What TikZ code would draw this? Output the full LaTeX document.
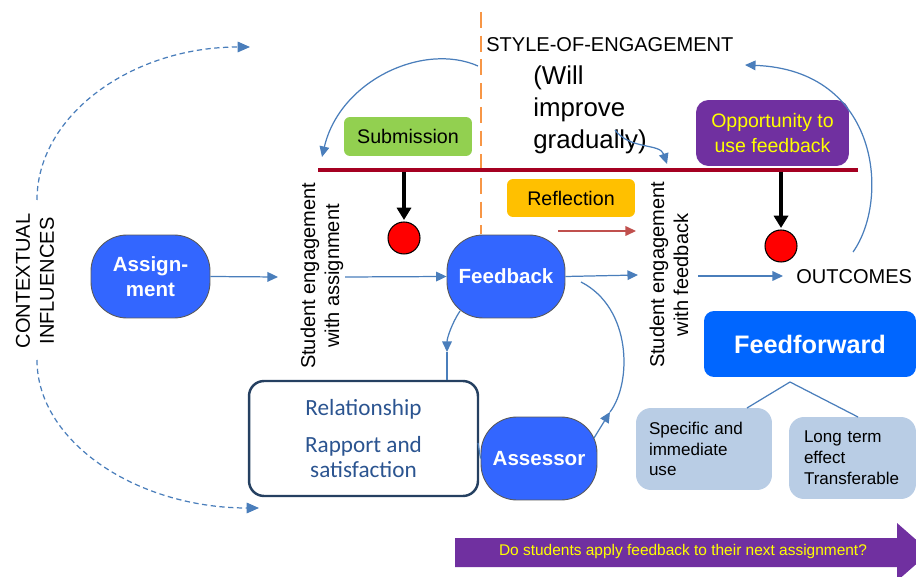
\documentclass[tikz,border=0pt]{standalone}
\usepackage{fontspec}
\setmainfont{Liberation Sans}
\newfontfamily\carlito{Carlito}
\usetikzlibrary{arrows.meta}
\newcommand\fz[2]{\fontsize{#1}{#2}\selectfont}
\definecolor{nodeblue}{HTML}{3366FF}
\definecolor{ffblue}{HTML}{0066FF}
\definecolor{lblue}{HTML}{4A7EBB}
\definecolor{dred}{HTML}{A50021}
\definecolor{orng}{HTML}{F79646}
\definecolor{grn}{HTML}{92D050}
\definecolor{ylwbox}{HTML}{FFC000}
\definecolor{purp}{HTML}{7030A0}
\definecolor{pale}{HTML}{B9CDE5}
\definecolor{navy}{HTML}{254061}
\definecolor{reltext}{HTML}{2B5490}
\definecolor{refl}{HTML}{C0504D}
\definecolor{yel}{HTML}{FFFF00}
\tikzset{
  bluebox/.style={draw=gray!70!black, line width=0.5pt, fill=nodeblue, rounded corners=0.72cm,
    text=white, font=\fz{11.7}{14}\bfseries, align=center, inner sep=0pt,
    minimum width=2.36cm, minimum height=1.66cm},
  conn/.style={draw=lblue, line width=0.7pt, -{Triangle[length=6pt,width=5.5pt]}},
  plainconn/.style={draw=lblue, line width=0.7pt},
  dashconn/.style={draw=lblue, line width=0.7pt, dash pattern=on 3pt off 2pt, -{Triangle[length=7pt,width=6pt]}},
  blackarr/.style={draw=black, line width=1.8pt, -{Triangle[length=7pt,width=8pt]}},
  reddot/.style={circle, draw=black, line width=0.6pt, fill=red, minimum size=0.64cm, inner sep=0pt},
  labelbox/.style={rounded corners=0.12cm, inner sep=0pt, font=\fz{11.2}{13.5}, align=center},
  palebox/.style={fill=pale, rounded corners=0.3cm, font=\fz{9.7}{11.9}, align=left, inner ysep=0pt},
  txt/.style={inner sep=0pt, font=\fz{11.4}{13.6}}
}
\begin{document}
\begin{tikzpicture}[x=0.02cm,y=-0.02cm]
\useasboundingbox (0,0) rectangle (916,577);
\clip (0,0) rectangle (916,577);

% horizontal bar and vertical dashed line
\draw[orng, line width=1.4pt, dash pattern=on 9pt off 4.5pt] (481,12) -- (481,234);
\draw[dred, line width=2.3pt] (318,170) -- (858,170);

% labels
\node[labelbox, fill=grn, minimum width=2.56cm, minimum height=0.78cm] (sub) at (408,136.5) {Submission};
\node[labelbox, fill=ylwbox, minimum width=2.56cm, minimum height=0.76cm] (refl) at (571,198) {Reflection};
\node[labelbox, fill=purp, text=yel, rounded corners=0.25cm, minimum width=3.06cm, minimum height=1.32cm, font=\fz{11.1}{14.2}] (opp) at (772.5,133) {Opportunity to\\use feedback};

\node[txt, anchor=west] (style) at (486,45) {STYLE-OF-ENGAGEMENT};
\node[txt, anchor=west, align=left, font=\fz{14.7}{18.1}] (will) at (533,110) {(Will\\improve\\gradually)};

% main nodes
\node[bluebox, minimum width=2.38cm] (assign) at (150.5,276.5) {Assign-\\ment};
\node[bluebox] (fb) at (506,276.5) {Feedback};
\node[bluebox, minimum width=2.32cm] (assess) at (539,458.5) {Assessor};
\node[draw=navy, line width=1.4pt, rounded corners=0.3cm, minimum width=4.58cm, minimum height=2.3cm,
  text=reltext, font=\carlito\fz{13.2}{14.2}, align=center, inner sep=0pt] (rel) at (363.5,438.5)
  {Relationship\\[7pt]Rapport and\\satisfaction};
\node[fill=ffblue, rounded corners=0.2cm, minimum width=4.24cm, minimum height=1.32cm, text=white,
  font=\fz{14.4}{16}\bfseries, inner sep=0pt] (ff) at (810,344) {Feedforward};
\node[palebox, minimum width=2.72cm, minimum height=1.64cm, inner xsep=0.26cm, text width=2.2cm] (spec) at (704,449) {Specific and\\immediate\\use};
\node[palebox, minimum width=2.54cm, minimum height=1.64cm, inner xsep=0.3cm, text width=1.94cm] (long) at (852.5,458) {Long term\\effect\\Transferable};

\node[txt, rotate=90, align=center] (sea) at (322,276) {Student engagement\\with assignment};
\node[txt, rotate=90, align=center] (sef) at (669,275) {Student engagement\\with feedback};
\node[txt, rotate=90, align=center] (ctx) at (35,281) {CONTEXTUAL\\INFLUENCES};
\node[txt, anchor=west] (out) at (796,277) {OUTCOMES};

\node[reddot] (dot1) at (404,238) {};
\node[reddot] (dot2) at (781,246) {};

% coordinates
\coordinate (b1) at (404,172);
\coordinate (b2) at (781,172);
\coordinate (a1) at (278,277);
\coordinate (a2) at (345,277);
\coordinate (f1) at (638,275);
\coordinate (f2) at (698,276);
\coordinate (f3) at (783,276);
\coordinate (r1) at (558,231);
\coordinate (r2) at (636,231);
\coordinate (ctxtop) at (37,200);
\coordinate (ctxbot) at (37,360);
\coordinate (dtop) at (250,47);
\coordinate (dbot) at (259,508);
\coordinate (sarc1) at (478,66);
\coordinate (sarc2) at (322,157);
\coordinate (g1) at (615,130);
\coordinate (g2) at (667,164);
\coordinate (o1) at (853,252);
\coordinate (o2) at (745,65);
\coordinate (fbl) at (460,311);
\coordinate (midl) at (447,352);
\coordinate (fbr) at (581,282);
\coordinate (midr) at (610,412);
\coordinate (asr) at (594,438);
\coordinate (apex) at (790,382);

% black arrows
\draw[blackarr] (b1) -- (404,220);
\draw[blackarr] (b2) -- (781,228);

% straight connectors
\draw[conn] (assign.east) -- (a1);
\draw[conn] (a2) -- (fb.west);
\draw[conn] (fb.east) -- (f1);
\draw[conn] (f2) -- (f3);
\draw[draw=refl, line width=0.7pt, -{Triangle[length=6pt,width=5.5pt]}] (r1) -- (r2);

% curved connectors
\draw[dashconn] (ctxtop) .. controls (37,115) and (132,47) .. (dtop);
\draw[dashconn] (ctxbot) .. controls (37,442) and (137,508) .. (dbot);
\draw[conn] (sarc1) .. controls (424,42) and (340,80) .. (sarc2);
\draw[conn] (g1) .. controls (630,150) and (660,143) .. (g2);
\draw[conn] (o1) .. controls (890,200) and (880,70) .. (o2);
\draw[conn] (fbl) .. controls (452,323) and (447,338) .. (midl);
\draw[plainconn] (midl) -- (rel.north -| midl);
\draw[conn] (asr) -- (midr);
\draw[plainconn] (midr) .. controls (632,383) and (632,308) .. (fbr);
\draw[plainconn] (478,443) -- (assess.west);
\draw[plainconn] (apex) -- (747,408);
\draw[plainconn] (apex) -- (858,417);

% bottom arrow
\fill[purp] (455,538) -- (897,538) -- (897,523) -- (930,552) -- (897,581) -- (897,567) -- (455,567) -- cycle;
\node[text=yel, font=\fz{8.8}{10}, inner sep=0pt] (q) at (683,552) {Do students apply feedback to their next assignment?};
\end{tikzpicture}
\end{document}
